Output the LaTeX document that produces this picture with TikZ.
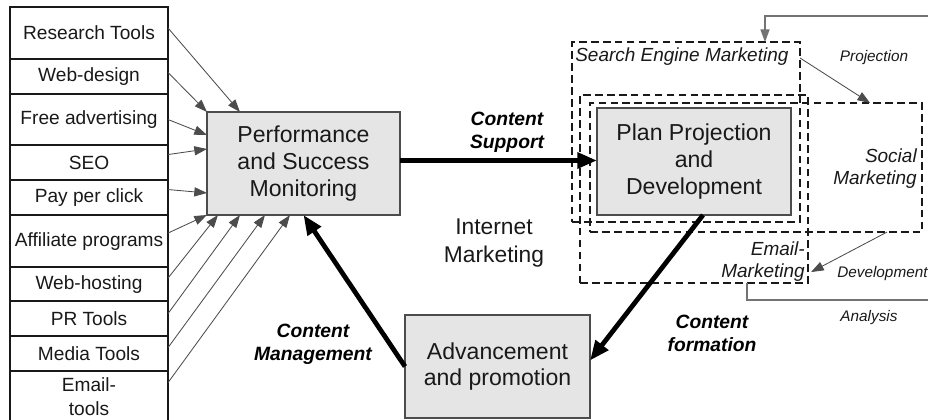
\documentclass[tikz,border=0pt]{standalone}
\usepackage{fontspec}
\setmainfont{Liberation Sans}
\usepackage{tikz}
\usetikzlibrary{arrows.meta, calc, positioning}
\definecolor{boxGray}{gray}{0.9}
\definecolor{lineGray}{gray}{0.3}
\definecolor{loopGray}{gray}{0.45}
\definecolor{inkBlack}{gray}{0.1}
\tikzset{
  toolbox/.style={draw=inkBlack, line width=0.9pt, minimum width=3.95cm, inner xsep=1pt, outer sep=0pt, align=center, text=inkBlack, font=\fontsize{13.6}{16.5}\selectfont},
  mainbox/.style={draw=lineGray, fill=boxGray, line width=0.9pt, outer sep=0pt, align=center, text=inkBlack, font=\fontsize{16.4}{19}\selectfont},
  dashbox/.style={draw=inkBlack, dash pattern=on 5.5pt off 3pt, line width=0.9pt, outer sep=0pt, inner sep=0pt},
  thinarrow/.style={draw=lineGray, line width=0.6pt, -{Triangle[length=9pt,width=6.5pt]}},
  thickarrow/.style={line width=3.4pt, -{Triangle[length=14pt,width=11pt]}},
  steplabel/.style={font=\fontsize{13.7}{16.5}\selectfont\bfseries\itshape, align=center},
  arealabel/.style={font=\fontsize{13.5}{16}\selectfont\itshape, inner sep=0pt, text=inkBlack},
  flowlabel/.style={font=\fontsize{10.9}{13}\selectfont\itshape, inner sep=0pt, text=inkBlack},
}

\begin{document}
\begin{tikzpicture}[x=0.025cm, y=-0.025cm]
  \useasboundingbox (0,0) rectangle (928,420);
  % tools column
  \node[toolbox, minimum height=1.3cm, anchor=north west] (rt) at (10,7) {Research Tools};
  \node[toolbox, minimum height=0.875cm, below=0pt of rt] (wd) {Web-design};
  \node[toolbox, minimum height=1.275cm, below=0pt of wd] (fa) {Free advertising};
  \node[toolbox, minimum height=0.875cm, below=0pt of fa] (seo) {SEO};
  \node[toolbox, minimum height=0.875cm, below=0pt of seo] (ppc) {Pay per click};
  \node[toolbox, minimum height=1.3cm, below=0pt of ppc] (aff) {Affiliate programs};
  \node[toolbox, minimum height=0.85cm, below=0pt of aff] (wh) {Web-hosting};
  \node[toolbox, minimum height=0.875cm, below=0pt of wh] (pr) {PR Tools};
  \node[toolbox, minimum height=0.875cm, below=0pt of pr] (mt) {Media Tools};
  \node[toolbox, minimum height=1.275cm, below=0pt of mt] (em) {Email-\\tools};

  % main blocks
  \node[mainbox, minimum width=4.825cm, minimum height=2.575cm] (perf) at (303.5,163.5) {Performance\\and Success\\Monitoring};
  \node[mainbox, minimum width=4.85cm, minimum height=2.675cm] (plan) at (694,161.5) {Plan Projection\\and\\Development};
  \node[mainbox, minimum width=4.625cm, minimum height=2.575cm] (adv) at (497.5,366.5) {Advancement\\and promotion};
  \node[align=center, text=inkBlack, font=\fontsize{16.2}{20}\selectfont] (im) at (494,243) {Internet\\Marketing};

  % marketing areas
  \node[dashbox, anchor=north west, minimum width=5.7cm, minimum height=4.5cm] (sem) at (572,42) {};
  \node[dashbox, anchor=north west, minimum width=5.7cm, minimum height=4.7cm] (email) at (580,95) {};
  \node[dashbox, anchor=north west, minimum width=8.3cm, minimum height=3.225cm] (social) at (590,103) {};
  \node[arealabel, anchor=base west] (semlbl) at (575,62) {Search Engine Marketing};
  \node[arealabel, anchor=north east, align=right] (soclbl) at (917,148) {Social\\Marketing};
  \node[arealabel, anchor=north east, align=right] (emlbl) at (805,241) {Email-\\Marketing};

  % tools -> monitoring
  \draw[thinarrow] ($(rt.east)+(0,-5)$) -- ($(perf.north west)+(33,0)$);
  \draw[thinarrow] ($(wd.east)+(0,-4)$) -- (perf.north west);
  \draw[thinarrow] (fa.east) -- ($(perf.north west)+(0,23)$);
  \draw[thinarrow] ($(seo.east)+(0,-8)$) -- ($(perf.north west)+(0,37)$);
  \draw[thinarrow] ($(ppc.east)+(0,-8)$) -- ($(perf.north west)+(0,81)$);
  \draw[thinarrow] ($(aff.east)+(0,-8)$) -- (perf.south west);
  \draw[thinarrow] ($(wh.east)+(0,-6)$) -- ($(perf.south west)+(11,0)$);
  \draw[thinarrow] ($(pr.east)+(0,-5)$) -- ($(perf.south west)+(33,0)$);
  \draw[thinarrow] ($(mt.east)+(0,-6)$) -- ($(perf.south west)+(58,0)$);
  \draw[thinarrow] ($(em.east)+(0,-14)$) -- ($(perf.south west)+(83,0)$);

  % content cycle
  \coordinate (csfrom) at ($(perf.east)+(0,-3)$);
  \draw[thickarrow] (csfrom) -- (csfrom -| plan.west);
  \draw[thickarrow] ($(plan.south)+(9,0)$) -- ($(adv.east)+(0,-6)$);
  \draw[thickarrow] (adv.west) -- (perf.south);
  \node[steplabel] (cs) at (507,132) {Content\\Support};
  \node[steplabel] (cm) at (313,344) {Content\\Management};
  \node[steplabel] (cf) at (712,333) {Content\\formation};

  % projection / development / analysis loop
  \draw[thinarrow] ($(sem.north east)+(0,16)$) -- ($(social.north east)+(-52,0)$);
  \node[flowlabel] (proj) at (874,58) {Projection};
  \draw[thinarrow] ($(social.south east)+(-35,0)$) -- ($(email.south east)+(3,-11)$);
  \node[flowlabel, anchor=west] (dev) at (837,274) {Development};
  \coordinate (loopin) at (928,16);
  \coordinate (loopout) at (928,300);
  \draw[thinarrow, draw=loopGray, line width=0.9pt] (loopin) -| ($(sem.north west)+(193,0)$);
  \draw[draw=loopGray, line width=0.9pt] ($(email.south west)+(167,0)$) |- (loopout);
  \node[flowlabel] (ana) at (869,318) {Analysis};
\end{tikzpicture}
\end{document}
